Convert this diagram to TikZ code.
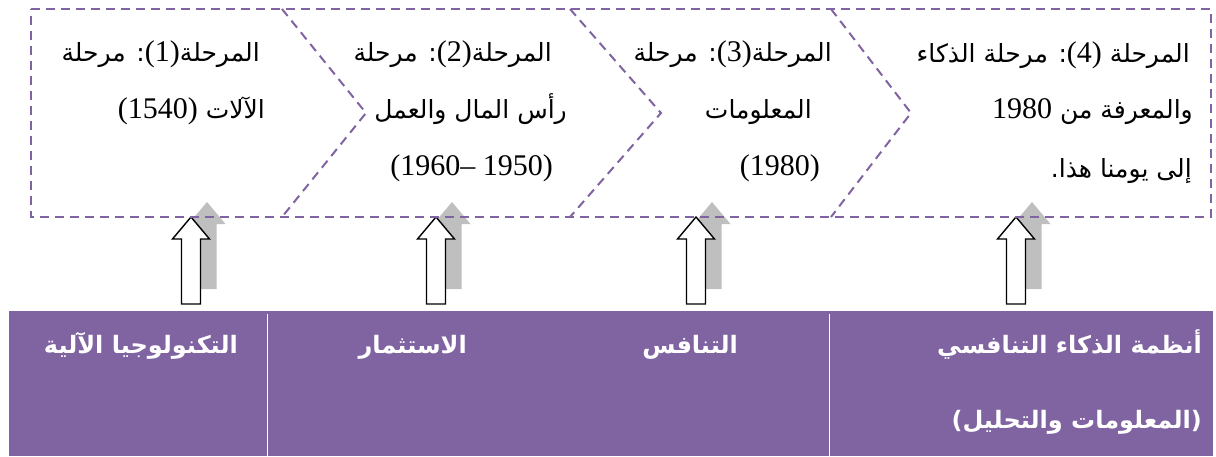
\documentclass[tikz,border=0pt]{standalone}
\usepackage{fontspec}
\setmainfont{Liberation Serif}
\newfontfamily\arabicfont[Script=Arabic]{DejaVu Sans}
\newfontfamily\latinfont{Liberation Serif}
\TeXXeTstate=1
\newcommand\lat[1]{\beginL{\latinfont\fontsize{30}{30}\selectfont #1}\endL{}}
\definecolor{stagepurple}{HTML}{8064A2}
\definecolor{shadowgray}{HTML}{BFBFBF}
\tikzset{
  stageline/.style={draw=stagepurple, line width=2pt, dash pattern=on 9pt off 6pt},
  stagetext/.style={anchor=base east, inner sep=0pt, text=black,
    font=\arabicfont\fontsize{25}{29}\selectfont},
  celltext/.style={anchor=base east, inner sep=0pt, text=white,
    font=\arabicfont\bfseries\fontsize{24}{28}\selectfont},
  celldivider/.style={draw=white, line width=1pt},
  blockarrow/.pic={
    % grey drop shadow, shifted up and to the right
    \fill[shadowgray] (16,-15) -- (34.5,7) -- (25.5,7) -- (25.5,72)
      -- (6.5,72) -- (6.5,7) -- (-2.5,7) -- cycle;
    % white outlined arrow
    \draw[black, line width=1.4pt, fill=white, line join=miter]
      (0,0) -- (18.5,22) -- (9.5,22) -- (9.5,87)
      -- (-9.5,87) -- (-9.5,22) -- (-18.5,22) -- cycle;
  }
}
\begin{document}
\begin{tikzpicture}[x=1pt, y=-1pt]
\useasboundingbox (0,0) rectangle (1216,456);

% purple band of driving factors
\fill[stagepurple] (9,311) rectangle (1213,456);
\coordinate (d1t) at (267,314); \coordinate (d1b) at (267,456);
\coordinate (d2t) at (829,314); \coordinate (d2b) at (829,456);
\draw[celldivider] (d1t) -- (d1b);
\draw[celldivider] (d2t) -- (d2b);

\node[celltext] (f1) at (238,353) {\beginR التكنولوجيا الآلية\endR};
\node[celltext] (f2) at (467,353) {\beginR الاستثمار\endR};
\node[celltext] (f3) at (738,353) {\beginR التنافس\endR};
\node[celltext] (f4a) at (1202,353) {\beginR أنظمة الذكاء التنافسي\endR};
\node[celltext] (f4b) at (1202,428) {\beginR (المعلومات والتحليل)\endR};

% block arrows from each factor up to its stage
\pic at (191,217) {blockarrow};
\pic at (436,217) {blockarrow};
\pic at (696,217) {blockarrow};
\pic at (1016,217) {blockarrow};

% dashed chevron process band
\coordinate (tl) at (31,9);   \coordinate (tr) at (1211,9);
\coordinate (bl) at (31,217); \coordinate (br) at (1211,217);
\draw[stageline] (tl) -- (tr) -- (br) -- (bl) -- cycle;
\coordinate (c1t) at (282,9); \coordinate (c1m) at (366,113); \coordinate (c1b) at (282,217);
\coordinate (c2t) at (570,9); \coordinate (c2m) at (661,113); \coordinate (c2b) at (570,217);
\coordinate (c3t) at (831,9); \coordinate (c3m) at (911,113); \coordinate (c3b) at (831,217);
\draw[stageline] (c1t) -- (c1m) -- (c1b);
\draw[stageline] (c2t) -- (c2m) -- (c2b);
\draw[stageline] (c3t) -- (c3m) -- (c3b);

% stage 1
\node[stagetext] (s1a) at (260,61) {\beginR المرحلة\lat{(1)}: مرحلة\endR};
\node[stagetext] (s1b) at (265,118) {\beginR الآلات \lat{(1540)}\endR};
% stage 2
\node[stagetext] (s2a) at (552,61) {\beginR المرحلة\lat{(2)}: مرحلة\endR};
\node[stagetext] (s2b) at (567,118) {\beginR رأس المال والعمل\endR};
\node[stagetext] (s2c) at (553,175) {\beginR\lat{(1960– 1950)}\endR};
% stage 3
\node[stagetext] (s3a) at (832,61) {\beginR المرحلة\lat{(3)}: مرحلة\endR};
\node[stagetext] (s3b) at (812,118) {\beginR المعلومات\endR};
\node[stagetext] (s3c) at (820,175) {\beginR\lat{(1980)}\endR};
% stage 4
\node[stagetext] (s4a) at (1190,62) {\beginR المرحلة \lat{(4)}: مرحلة الذكاء\endR};
\node[stagetext] (s4b) at (1193,118) {\beginR والمعرفة من \lat{1980}\endR};
\node[stagetext] (s4c) at (1192,177) {\beginR إلى يومنا هذا.\endR};
\end{tikzpicture}
\end{document}
